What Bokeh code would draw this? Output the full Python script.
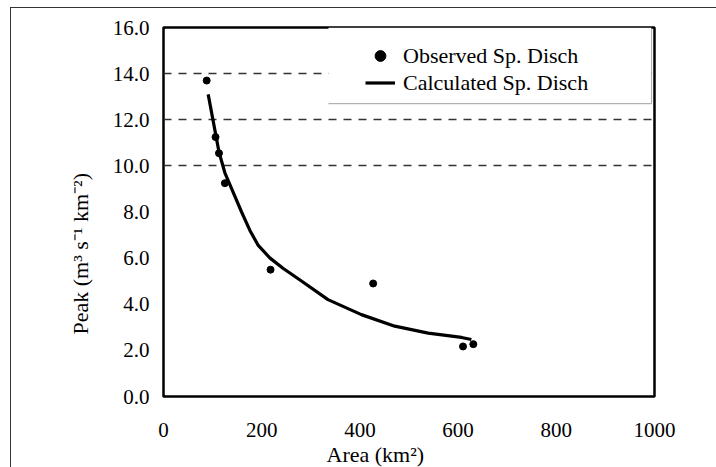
from bokeh.plotting import figure
from bokeh.models import Legend, LegendItem, BoxAnnotation, Title, FixedTicker, PrintfTickFormatter
from bokeh.embed import file_html
from bokeh.resources import INLINE

# ---- data ----
obs_area = [88, 106, 113, 125, 218, 427, 610, 631]
obs_peak = [13.7, 11.25, 10.55, 9.25, 5.5, 4.9, 2.17, 2.27]

calc_area = [91, 106, 113, 125, 135, 159, 176, 193, 217, 244, 278, 335, 403, 471, 539, 607, 627]
calc_peak = [13.1, 11.4, 10.6, 9.7, 9.2, 8.0, 7.2, 6.55, 6.0, 5.55, 5.05, 4.2, 3.55, 3.05, 2.75, 2.56, 2.47]

x_ticks = [0, 200, 400, 600, 800, 1000]
y_ticks = [0, 2, 4, 6, 8, 10, 12, 14, 16]
grid_y = [10, 12, 14]

x_title = "Area (km\u00b2)"
y_title = "Peak (m\u00b3 s\u207b\u00b9 km\u207b\u00b2)"
obs_name = "Observed Sp. Disch"
calc_name = "Calculated Sp. Disch"

FONT = "Liberation Serif"

p = figure(width=706, height=460, x_range=(0, 1000), y_range=(0, 16),
           output_backend="svg", toolbar_location=None,
           min_border_left=152, min_border_right=63, min_border_top=19, min_border_bottom=72,
           margin=(7, 0, 0, 10))
p.styles = {"border-top": "1px solid #333", "border-left": "1px solid #333"}

p.background_fill_color = "white"
p.border_fill_color = "white"
p.outline_line_color = "black"
p.outline_line_width = 2.5

# axes
for ax in (p.xaxis[0], p.yaxis[0]):
    ax.axis_line_color = None
    ax.major_tick_line_color = None
    ax.minor_tick_line_color = None
    ax.major_tick_out = 0
    ax.major_tick_in = 0
    ax.major_label_text_font = FONT
    ax.major_label_text_font_size = "21px"
    ax.major_label_text_color = "black"

p.xaxis.ticker = FixedTicker(ticks=x_ticks)
p.yaxis.ticker = FixedTicker(ticks=y_ticks)
p.yaxis.formatter = PrintfTickFormatter(format="%.1f")
p.xaxis.major_label_standoff = 26
p.yaxis.major_label_standoff = 14

# axis titles, placed off-centre as in the reference
p.add_layout(Title(text=y_title, align="left", offset=62, standoff=34,
                   text_font=FONT, text_font_size="22px", text_font_style="normal",
                   text_color="black"), "left")
p.add_layout(Title(text=x_title, align="left", offset=163, standoff=0,
                   text_font=FONT, text_font_size="22px", text_font_style="normal",
                   text_color="black"), "below")

# grid
p.xgrid.grid_line_color = None
p.ygrid.ticker = FixedTicker(ticks=grid_y)
p.ygrid.grid_line_color = "#333333"
p.ygrid.grid_line_dash = "8 7"
p.ygrid.grid_line_width = 1.5

# data
line_r = p.line(calc_area, calc_peak, line_color="black", line_width=3.2, line_join="round")
dot_r = p.scatter(obs_area, obs_peak, size=7, fill_color="black", line_color="black")

# legend box: white background, bottom and right border lines only
p.add_layout(BoxAnnotation(left=336, right=994, top=16, bottom=12.7,
                           fill_color="white", fill_alpha=1.0, line_color=None))
p.add_layout(BoxAnnotation(left=336, right=994, top=12.7, bottom=12.7,
                           fill_alpha=0, line_color="black", line_width=1.2))
p.add_layout(BoxAnnotation(left=994, right=994, top=16, bottom=12.7,
                           fill_alpha=0, line_color="black", line_width=1.2))

legend = Legend(items=[LegendItem(label=obs_name, renderers=[dot_r]),
                       LegendItem(label=calc_name, renderers=[line_r])],
                location=(202, 300), padding=4, spacing=0,
                glyph_width=30, glyph_height=27, label_height=27,
                label_standoff=8,
                label_text_font=FONT, label_text_font_size="22px",
                label_text_color="black",
                background_fill_alpha=0, border_line_color=None)
p.add_layout(legend)

open("out.html", "w").write(file_html(p, INLINE))
